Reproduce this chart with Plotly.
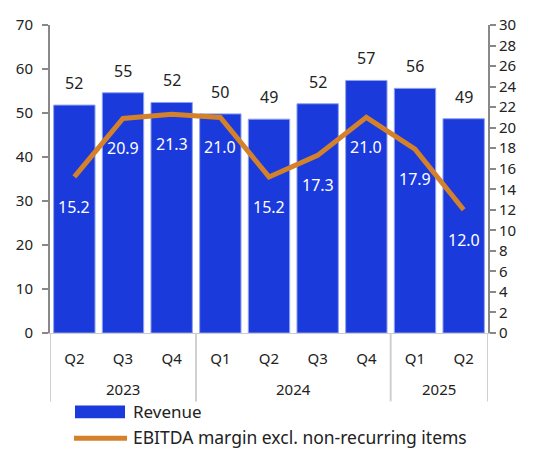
import plotly.graph_objects as go

years = ["2023", "2023", "2023", "2024", "2024", "2024", "2024", "2025", "2025"]
quarters = ["Q2", "Q3", "Q4", "Q1", "Q2", "Q3", "Q4", "Q1", "Q2"]
revenue = [51.8, 54.6, 52.4, 49.8, 48.6, 52.1, 57.4, 55.6, 48.7]
ebitda_margin = [15.2, 20.9, 21.3, 21.0, 15.2, 17.3, 21.0, 17.9, 12.0]
revenue_name = "Revenue"
margin_name = "EBITDA margin excl. non-recurring items"

BLUE = "#1a3adb"
ORANGE = "#d4812b"
FONT = "Noto Sans"
TXT = "#222222"

W, H = 535, 450
L, R, T, B = 50, 47, 25, 116.5

idx = list(range(len(quarters)))

fig = go.Figure()
fig.add_trace(go.Bar(
    x=idx, y=revenue, name=revenue_name,
    marker=dict(color=BLUE, line=dict(color="#8fa2f2", width=1)),
    showlegend=False, yaxis="y",
))
fig.add_trace(go.Scatter(
    x=idx, y=ebitda_margin, name=margin_name,
    mode="lines", line=dict(color=ORANGE, width=5),
    showlegend=False, yaxis="y2",
))

ann = []
for i, v in zip(idx, revenue):
    ann.append(dict(x=i, y=v, xref="x", yref="y", text=f"{round(v):d}",
                    showarrow=False, yanchor="middle", yshift=22,
                    font=dict(family=FONT, size=16, color=TXT)))
for i, v in zip(idx, ebitda_margin):
    ann.append(dict(x=i, y=v, xref="x", yref="y2", text=f"{v:.1f}",
                    showarrow=False, yanchor="middle", yshift=-30,
                    font=dict(family=FONT, size=16, color="white")))

pw = W - L - R
ph = H - T - B
def px(x):
    return (x - L) / pw
def py(y):
    return (H - B - y) / ph

shapes = []
groups = []
for i, y in enumerate(years):
    if not groups or groups[-1][0] != y:
        groups.append([y, i, i])
    else:
        groups[-1][2] = i
bounds = [-0.5] + [g[2] + 0.5 for g in groups]
for b in bounds:
    shapes.append(dict(type="line", xref="x", yref="paper", x0=b, x1=b,
                       y0=py(334), y1=py(402), line=dict(color="#d0d0d0", width=2)))
for y, a, b in groups:
    ann.append(dict(x=(a + b) / 2, xref="x", yref="paper", y=py(390), text=y,
                    showarrow=False, yanchor="middle",
                    font=dict(family=FONT, size=15, color=TXT)))

shapes += [
    dict(type="rect", xref="paper", yref="paper", x0=px(75), x1=px(125),
         y0=py(419), y1=py(406), fillcolor=BLUE, line=dict(width=0)),
    dict(type="line", xref="paper", yref="paper", x0=px(74), x1=px(127),
         y0=py(439), y1=py(439), line=dict(color=ORANGE, width=5)),
]
ann.append(dict(xref="paper", yref="paper", x=px(131), y=py(412.5), text=revenue_name,
                showarrow=False, xanchor="left", yanchor="middle",
                font=dict(family=FONT, size=17, color=TXT)))
ann.append(dict(xref="paper", yref="paper", x=px(131), y=py(437.5), text=margin_name,
                showarrow=False, xanchor="left", yanchor="middle",
                font=dict(family=FONT, size=17.5, color=TXT)))

fig.update_layout(
    width=W, height=H,
    margin=dict(l=L, r=R, t=T, b=B, pad=0),
    paper_bgcolor="white", plot_bgcolor="white",
    bargap=0.15,
    font=dict(family=FONT, size=14, color=TXT),
    xaxis=dict(range=[-0.5, len(idx) - 0.5], tickvals=idx, ticktext=quarters,
               showgrid=False, zeroline=False, showline=True,
               linecolor="#cccccc", linewidth=1, ticks="", ticklabelstandoff=12,
               tickfont=dict(family=FONT, size=15, color=TXT)),
    yaxis=dict(range=[0, 70], dtick=10, showgrid=False, zeroline=False,
               showline=True, linecolor="#888888", linewidth=2,
               ticks="outside", ticklen=6, tickcolor="#888888", tickwidth=2,
               tickfont=dict(family=FONT, size=15, color=TXT), ticklabelstandoff=6),
    yaxis2=dict(range=[0, 30], dtick=2, overlaying="y", side="right",
                showgrid=False, zeroline=False,
                showline=True, linecolor="#888888", linewidth=2,
                ticks="outside", ticklen=6, tickcolor="#888888", tickwidth=2,
                tickfont=dict(family=FONT, size=15, color=TXT)),
    annotations=ann,
    shapes=shapes,
    showlegend=False,
)

fig.write_html("out.html")
